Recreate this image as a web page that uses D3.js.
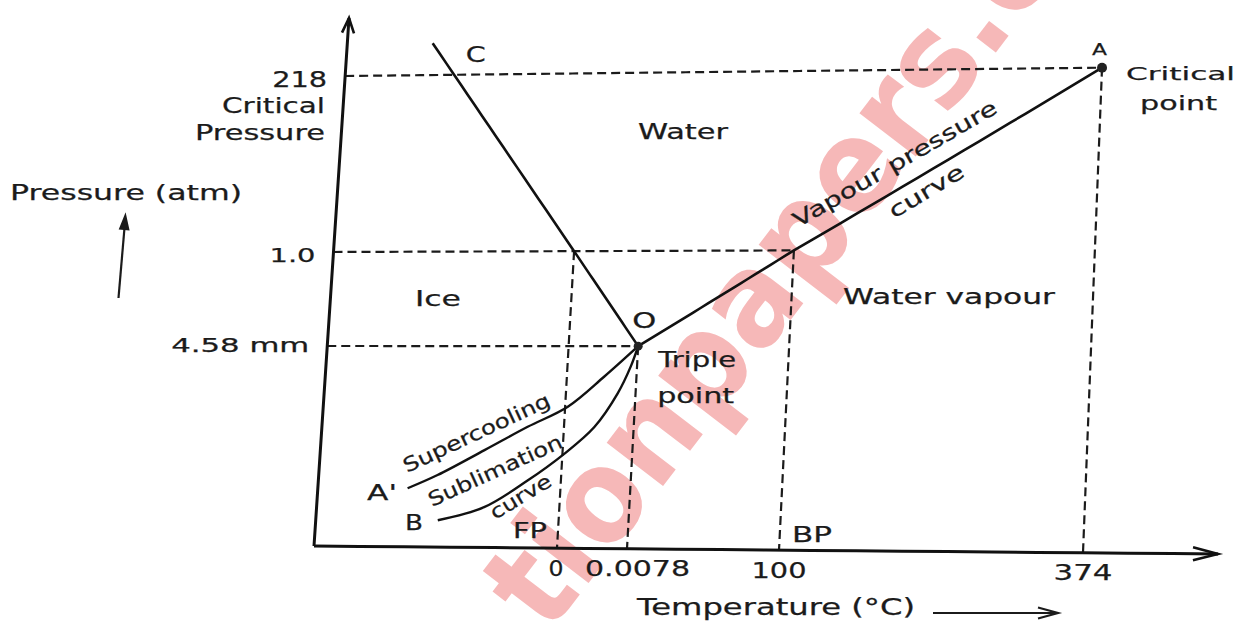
<!DOCTYPE html>
<html>
<head>
<meta charset="utf-8">
<style>
    body { margin: 0; background: #fff; }
    svg { display: block; }
    text { font-family: 'DejaVu Sans', Verdana, sans-serif; fill: #1b1b1b; stroke: #1b1b1b; stroke-width: 0.25; }
    .watermark { font-family: 'DejaVu Sans', sans-serif; font-weight: bold; fill: #f6b8b8; stroke: none; }
</style>
<title>Phase diagram of water</title>
</head>
<body>
<svg width="1243" height="625"></svg>
<script src="https://d3js.org/d3.v7.min.js"></script>
<script>
    // temperature in °C, pressure in atm (schematic, not to scale)
    let tempTicks = [0, 0.0078, 100, 374]
    let tempTickLabels = ['0', '0.0078', '100', '374']
    let pressTicks = [218, 1.0, 0.006]
    let pressTickLabels = ['218', '1.0', '4.58 mm']

    let meltPoint = [0, 1.0]
    let triplePoint = [0.0078, 0.006]
    let boilPoint = [100, 1.0]
    let criticalPoint = [374, 218]

    let fusionCurve = [[-25.7, 241], [0, 1.0], [0.0078, 0.006]]
    let vapourCurve = [[0.0078, 0.006], [100, 1.0], [374, 218]]
    let supercoolCurve = [[-25.2, 0.00175], [-20.4, 0.00215], [-12.9, 0.0029], [-6.0, 0.0036], [0.0003, 0.0042], [0.0042, 0.0051], [0.0078, 0.006]]
    let sublimationCurve = [[-19.9, 0.0008], [-12.4, 0.0012], [-5.5, 0.002], [0.0002, 0.0028], [0.0034, 0.0036], [0.0058, 0.0046], [0.0071, 0.0054], [0.0078, 0.006]]

    let svg = d3.select('svg')

    // piecewise scales: the printed axes are schematic
    let x = d3.scaleLinear().domain([-40, 0, 0.0078, 100, 374, 450]).range([0, 243, 313, 465, 769, 904])
    let y = d3.scaleLinear().domain([0, 0.006, 1, 218, 260]).range([0, 200, 294, 470, 528])

    // the scanned figure is slightly skewed, so map the plot rectangle onto its four corners
    let BL = [314, 546], BR = [1218, 554], TL = [349, 18], TR = [1237, 6]
    function warp(u, v) {
        let s = u / 904, t = v / 528
        return [0, 1].map(i => (1 - s) * (1 - t) * BL[i] + s * (1 - t) * BR[i] + (1 - s) * t * TL[i] + s * t * TR[i])
    }
    let P = d => warp(x(d[0]), y(d[1]))

    function straight(pts) {
        let out = []
        for (let i = 0; i < pts.length - 1; i++) {
            let a = [x(pts[i][0]), y(pts[i][1])], b = [x(pts[i + 1][0]), y(pts[i + 1][1])]
            for (let k = (i > 0 ? 1 : 0); k <= 20; k++) {
                let f = k / 20
                out.push(warp(a[0] + (b[0] - a[0]) * f, a[1] + (b[1] - a[1]) * f))
            }
        }
        return out
    }

    function arrowHead(tip, from, len, half) {
        let dx = tip[0] - from[0], dy = tip[1] - from[1], L = Math.hypot(dx, dy)
        dx /= L; dy /= L
        let bx = tip[0] - dx * len, by = tip[1] - dy * len
        return [[bx - dy * half, by + dx * half], tip, [bx + dy * half, by - dx * half]]
    }

    let line = d3.line()
    let smooth = d3.line().curve(d3.curveCatmullRom)

    // watermark
    svg.append('text')
        .attr('class', 'watermark')
        .attr('transform', 'translate(548,636) rotate(-52.5)')
        .attr('font-size', 130)
        .attr('textLength', 839)
        .attr('lengthAdjust', 'spacingAndGlyphs')
        .text('tionpapers.c')

    let xMin = x.domain()[0], xMax = x.domain()[x.domain().length - 1]
    let yMax = y.domain()[y.domain().length - 1]

    // dashed guide lines
    let guides = svg.append('g')
        .attr('fill', 'none')
        .attr('stroke', '#1b1b1b')
        .attr('stroke-width', 2.2)
        .attr('stroke-dasharray', '9,5')

    let guideEnds = [criticalPoint, boilPoint, triplePoint]
    guides.selectAll('.h')
        .data(guideEnds)
        .join('path')
        .attr('d', d => line(straight([[xMin, d[1]], d])))

    let dropFrom = [meltPoint, triplePoint, boilPoint, criticalPoint]
    guides.selectAll('.v')
        .data(dropFrom)
        .join('path')
        .attr('d', d => line(straight([d, [d[0], 0]])))

    // axes
    let axes = svg.append('g').attr('fill', 'none').attr('stroke', '#111').attr('stroke-width', 3)
    let yAxisPts = straight([[xMin, 0], [xMin, yMax]])
    let xAxisPts = straight([[xMin, 0], [xMax, 0]])
    axes.append('path').attr('d', line(yAxisPts))
    axes.append('path').attr('d', line(xAxisPts))
    axes.append('path').attr('stroke-width', 2.6)
        .attr('d', line(arrowHead(yAxisPts[yAxisPts.length - 1], yAxisPts[0], 15, 6)))
    axes.append('path').attr('stroke-width', 2.6)
        .attr('d', line(arrowHead(xAxisPts[xAxisPts.length - 1], xAxisPts[0], 25, 6.5)))

    // phase boundaries
    let curves = svg.append('g').attr('fill', 'none').attr('stroke', '#111').attr('stroke-width', 2.6)
    curves.append('path').attr('d', line(straight(fusionCurve)))
    curves.append('path').attr('d', line(straight(vapourCurve)))
    curves.append('path').attr('stroke-width', 2.4).attr('d', smooth(supercoolCurve.map(P)))
    curves.append('path').attr('stroke-width', 2.4).attr('d', smooth(sublimationCurve.map(P)))

    svg.selectAll('.dot')
        .data([triplePoint, criticalPoint])
        .join('circle')
        .attr('cx', d => P(d)[0])
        .attr('cy', d => P(d)[1])
        .attr('r', (d, i) => i ? 5 : 4.5)
        .attr('fill', '#222')

    function label(txt, px, py, size, width, anchor, rot) {
        let t = svg.append('text')
            .attr('font-size', size)
            .attr('text-anchor', anchor || 'start')
            .attr('transform', `translate(${px},${py})` + (rot ? ` rotate(${rot})` : ''))
            .text(txt)
        if (width) t.attr('textLength', width).attr('lengthAdjust', 'spacingAndGlyphs')
        return t
    }

    // tick labels on temperature axis
    let tempLabelDx = [-1, 10.5, 0, 0]
    let tempLabelW = [15, 105, 55, 59]
    tempTicks.forEach((v, i) => {
        let p = P([v, 0])
        label(tempTickLabels[i], p[0] + tempLabelDx[i], p[1] + 27.5, 22, tempLabelW[i], 'middle')
    })

    // tick labels on pressure axis
    let pressLabelDy = [11, 10, 6]
    let pressLabelSize = [22, 20, 20]
    let pressLabelW = [55, 46, 138]
    pressTicks.forEach((v, i) => {
        let p = P([xMin, v])
        label(pressTickLabels[i], p[0] - 18, p[1] + pressLabelDy[i], pressLabelSize[i], pressLabelW[i], 'end')
    })
    label('Critical', 325, 113, 22, 103, 'end')
    label('Pressure', 325, 140, 22, 130, 'end')

    // axis titles
    label('Pressure (atm)', 10, 200, 21.5, 232)
    label('Temperature (°C)', 637, 615, 22.5, 278)
    let small = svg.append('g').attr('stroke', '#1b1b1b').attr('stroke-width', 2.2).attr('fill', 'none')
    small.append('path').attr('d', line([[118.5, 298], [125, 222]]))
    small.append('path').attr('fill', '#1b1b1b').attr('d', line(arrowHead([125.3, 216], [118.5, 298], 13, 4)) + 'Z')
    small.append('path').attr('d', line([[933, 613], [1057, 613]]))
    small.append('path').attr('d', line(arrowHead([1058, 613], [933, 613], 20, 5.5)))

    // point / region labels
    let pC = P(fusionCurve[0]), pA = P(criticalPoint), pO = P(triplePoint)
    label('C', pC[0] + 33, pC[1] + 19, 22, 20)
    label('A', pA[0] - 10, pA[1] - 13, 16, 15)
    label('Critical', pA[0] + 24, pA[1] + 12, 18.5, 109)
    label('point', pA[0] + 38, pA[1] + 42, 19, 77)
    label('O', pO[0] - 6, pO[1] - 18, 21, 24)
    label('Triple', pO[0] + 20, pO[1] + 21, 21, 78)
    label('point', pO[0] + 19, pO[1] + 57, 21, 77)
    label("A'", 367, 500, 22, 30)
    label('B', 405, 530, 22, 18)
    label('FP', 513, 538, 21, 34)
    label('BP', 792, 542, 22, 40)
    label('Water', 638, 139, 22, 90)
    label('Ice', 415, 306, 22, 46)
    label('Water vapour', 843, 304, 21, 212)

    // labels along the curves
    label('Vapour pressure', 798, 228, 21, 232, 'start', -30)
    label('curve', 894, 219, 21, 84, 'start', -31)
    label('Supercooling', 407, 473, 20, 160, 'start', -25)
    label('Sublimation', 432, 507, 20, 145, 'start', -24.5)
    label('curve', 495, 520, 20, 68, 'start', -31)
</script>
</body>
</html>
